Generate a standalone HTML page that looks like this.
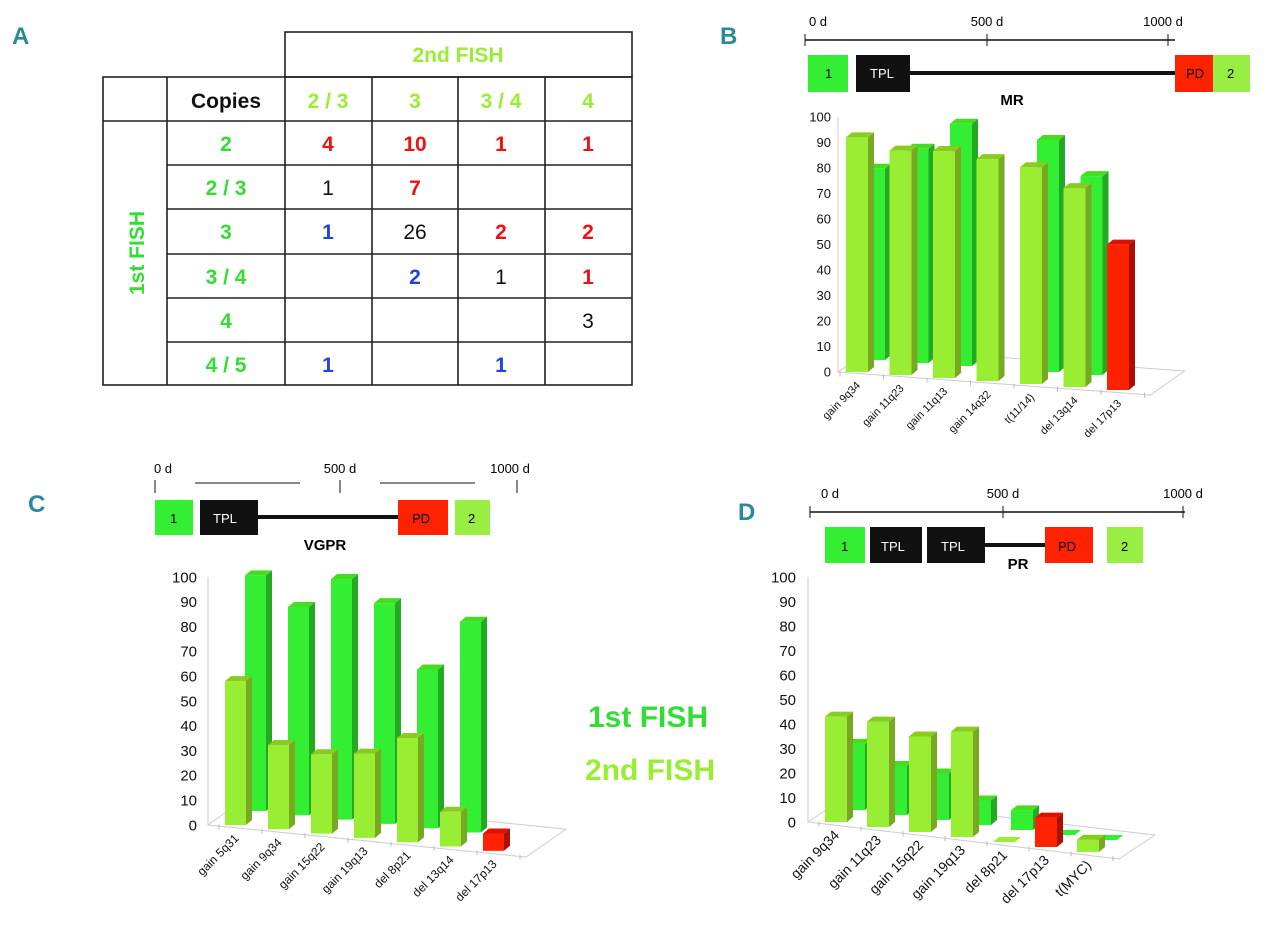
<!DOCTYPE html>
<html><head><meta charset="utf-8">
<style>
body{margin:0;background:#fff;width:1280px;height:943px;overflow:hidden;font-family:"Liberation Sans",sans-serif}
svg{position:absolute;left:0;top:0}
</style></head>
<body>
<svg id="fig" width="1280" height="943" viewBox="0 0 1280 943" xmlns="http://www.w3.org/2000/svg" font-family="Liberation Sans, sans-serif">
<g fill="#2a8a9a" font-weight="bold" font-size="24">
<text x="12" y="44">A</text>
<text x="720" y="44">B</text>
<text x="28" y="512">C</text>
<text x="738" y="520">D</text>
</g>

<g id="table" stroke="#222" stroke-width="1.6" fill="none">
<rect x="285" y="32" width="347" height="45"/>
<rect x="103" y="77" width="529" height="308"/>
<line x1="103" y1="121" x2="632" y2="121"/>
<line x1="167" y1="77" x2="167" y2="385"/>
<line x1="285" y1="77" x2="285" y2="385"/>
<line x1="372" y1="77" x2="372" y2="385"/>
<line x1="458" y1="77" x2="458" y2="385"/>
<line x1="545" y1="77" x2="545" y2="385"/>
<line x1="167" y1="165" x2="632" y2="165"/>
<line x1="167" y1="209" x2="632" y2="209"/>
<line x1="167" y1="254" x2="632" y2="254"/>
<line x1="167" y1="298" x2="632" y2="298"/>
<line x1="167" y1="342" x2="632" y2="342"/>
</g>
<g font-size="21" font-weight="bold" text-anchor="middle">
<text x="458" y="62" fill="#99ee33">2nd FISH</text>
<text x="226" y="108" fill="#111">Copies</text>
<text x="328" y="108" fill="#99ee33">2 / 3</text>
<text x="415" y="108" fill="#99ee33">3</text>
<text x="501" y="108" fill="#99ee33">3 / 4</text>
<text x="588" y="108" fill="#99ee33">4</text>
<text transform="translate(144,253) rotate(-90)" fill="#33dd33">1st FISH</text>
<g fill="#33dd33">
<text x="226" y="151">2</text><text x="226" y="195">2 / 3</text><text x="226" y="239">3</text>
<text x="226" y="284">3 / 4</text><text x="226" y="328">4</text><text x="226" y="372">4 / 5</text>
</g>
<text x="328" y="151" fill="#ee1111">4</text><text x="415" y="151" fill="#ee1111">10</text><text x="501" y="151" fill="#ee1111">1</text><text x="588" y="151" fill="#ee1111">1</text>
<text x="328" y="195" fill="#111" font-weight="normal">1</text><text x="415" y="195" fill="#ee1111">7</text>
<text x="328" y="239" fill="#2244dd">1</text><text x="415" y="239" fill="#111" font-weight="normal">26</text><text x="501" y="239" fill="#ee1111">2</text><text x="588" y="239" fill="#ee1111">2</text>
<text x="415" y="284" fill="#2244dd">2</text><text x="501" y="284" fill="#111" font-weight="normal">1</text><text x="588" y="284" fill="#ee1111">1</text>
<text x="588" y="328" fill="#111" font-weight="normal">3</text>
<text x="328" y="372" fill="#2244dd">1</text><text x="501" y="372" fill="#2244dd">1</text>
</g>

<g font-size="13">
<line x1="805" y1="40" x2="1175" y2="40" stroke="#111" stroke-width="1.5"/>
<line x1="805" y1="34" x2="805" y2="46" stroke="#111"/><line x1="987" y1="34" x2="987" y2="46" stroke="#111"/><line x1="1168" y1="34" x2="1168" y2="46" stroke="#111"/>
<text x="818" y="26" text-anchor="middle">0 d</text><text x="987" y="26" text-anchor="middle">500 d</text><text x="1163" y="26" text-anchor="middle">1000 d</text>
<line x1="910" y1="73" x2="1175" y2="73" stroke="#111" stroke-width="4"/>
<rect x="808" y="55" width="40" height="37" fill="#33ee33"/><text x="825" y="78">1</text>
<rect x="856" y="55" width="54" height="37" fill="#111"/><text x="870" y="78" fill="#fff">TPL</text>
<rect x="1175" y="55" width="38" height="37" fill="#ff2200"/><text x="1186" y="78">PD</text>
<rect x="1213" y="55" width="37" height="37" fill="#99ee44"/><text x="1227" y="78">2</text>
<text x="1012" y="105" font-weight="bold" font-size="15" text-anchor="middle">MR</text>
</g>
<g font-size="13">
<line x1="195" y1="483" x2="300" y2="483" stroke="#111"/><line x1="380" y1="483" x2="475" y2="483" stroke="#111"/>
<line x1="155" y1="480" x2="155" y2="493" stroke="#111"/><line x1="340" y1="480" x2="340" y2="493" stroke="#111"/><line x1="517" y1="480" x2="517" y2="493" stroke="#111"/>
<text x="163" y="473" text-anchor="middle">0 d</text><text x="340" y="473" text-anchor="middle">500 d</text><text x="510" y="473" text-anchor="middle">1000 d</text>
<line x1="258" y1="517" x2="398" y2="517" stroke="#111" stroke-width="4"/>
<rect x="155" y="500" width="38" height="35" fill="#33ee33"/><text x="170" y="523">1</text>
<rect x="200" y="500" width="58" height="35" fill="#111"/><text x="213" y="523" fill="#fff">TPL</text>
<rect x="398" y="500" width="50" height="35" fill="#ff2200"/><text x="412" y="523">PD</text>
<rect x="455" y="500" width="35" height="35" fill="#99ee44"/><text x="468" y="523">2</text>
<text x="325" y="550" font-weight="bold" font-size="15" text-anchor="middle">VGPR</text>
</g>
<g font-size="13">
<line x1="810" y1="512" x2="1185" y2="512" stroke="#111" stroke-width="1.5"/>
<line x1="810" y1="506" x2="810" y2="518" stroke="#111"/><line x1="1003" y1="506" x2="1003" y2="518" stroke="#111"/><line x1="1183" y1="506" x2="1183" y2="518" stroke="#111"/>
<text x="830" y="498" text-anchor="middle">0 d</text><text x="1003" y="498" text-anchor="middle">500 d</text><text x="1183" y="498" text-anchor="middle">1000 d</text>
<line x1="985" y1="545" x2="1045" y2="545" stroke="#111" stroke-width="4"/>
<rect x="825" y="527" width="40" height="36" fill="#33ee33"/><text x="841" y="551">1</text>
<rect x="870" y="527" width="52" height="36" fill="#111"/><text x="881" y="551" fill="#fff">TPL</text>
<rect x="927" y="527" width="58" height="36" fill="#111"/><text x="941" y="551" fill="#fff">TPL</text>
<rect x="1045" y="527" width="48" height="36" fill="#ff2200"/><text x="1058" y="551">PD</text>
<rect x="1107" y="527" width="36" height="36" fill="#99ee44"/><text x="1121" y="551">2</text>
<text x="1018" y="569" font-weight="bold" font-size="15" text-anchor="middle">PR</text>
</g>

<g font-size="30" font-weight="bold">
<text x="588" y="727" fill="#33dd33">1st FISH</text>
<text x="585" y="780" fill="#99ee33">2nd FISH</text>
</g>
<g id="charts"></g>
</svg>
<script>
// Panel B (MR)
const catsB = ["gain 9q34","gain 11q23","gain 11q13","gain 14q32","t(11/14)","del 13q14","del 17p13"];
const secondB = [92,88,89,87,85,78,57];
const firstB = [75,84,95,0,91,78,0];
const redB = [6];
// Panel C (VGPR)
const catsC = ["gain 5q31","gain 9q34","gain 15q22","gain 19q13","del 8p21","del 13q14","del 17p13"];
const secondC = [58,34,32,34,42,14,7];
const firstC = [95,84,97,89,64,85,0];
const redC = [6];
// Panel D (PR)
const catsD = ["gain 9q34","gain 11q23","gain 15q22","gain 19q13","del 8p21","del 17p13","t(MYC)"];
const secondD = [43,43,39,43,0,12,5];
const firstD = [27,20,19,10,8,0,0];
const redD = [5];
const ticks = [0,10,20,30,40,50,60,70,80,90,100];

const NS="http://www.w3.org/2000/svg";
const root=document.getElementById('charts');
function mk(tag,attrs,parent){const e=document.createElementNS(NS,tag);for(const k in attrs)e.setAttribute(k,attrs[k]);parent.appendChild(e);return e;}

function drawChart(id,cfg,cats,front,back,reds){
  const g=mk('g',{},root);
  
  
  const yOf=v=>v*cfg.s;
  const n=cats.length;
  const xOf=i=>cfg.x0+i*cfg.sp;
  const baseOf=i=>cfg.y0+i*cfg.slope;
  const fx0=cfg.ax, fy0=cfg.y0, fx1=cfg.x0+n*cfg.sp, fy1=cfg.y0+(fx1-cfg.x0)/cfg.sp*cfg.slope+2;
  const bdx=cfg.bdx*2, bdy=cfg.bdy*2;
  const floor=mk('polygon',{points:`${fx0},${fy0} ${fx1},${fy1} ${fx1+bdx},${fy1-bdy} ${fx0+bdx},${fy0-bdy}`,fill:'none',stroke:'#ccc','stroke-width':1},g);
  
  
  mk('line',{x1:cfg.ax,y1:cfg.y0,x2:cfg.ax,y2:cfg.y0-yOf(100),stroke:'#ccc'},g);
  for(let i=0;i<=n;i++){const x=cfg.x0+i*cfg.sp-6;mk('line',{x1:x,y1:cfg.y0+(x-cfg.x0)/cfg.sp*cfg.slope,x2:x,y2:cfg.y0+(x-cfg.x0)/cfg.sp*cfg.slope+5,stroke:'#bbb'},g);}
  ticks.forEach(t=>{
    const tx=mk('text',{x:cfg.lx,y:cfg.y0-yOf(t)+cfg.fs*0.35,'text-anchor':'end','font-size':cfg.fs,fill:'#111'},g);
    tx.textContent=t;
    
    
  });
  function bar(x,base,v,c1,c2,c3,name){
    const h=yOf(v),w=cfg.w,d=6,dy=5;
    const bg=mk('g',{},g);
    
    
    if(v<=0.5){mk('polygon',{points:`${x},${base} ${x+w},${base} ${x+w+d},${base-dy} ${x+d},${base-dy}`,fill:c1},bg);return;}
    mk('rect',{x:x,y:base-h,width:w,height:h,fill:c1},bg);
    mk('polygon',{points:`${x+w},${base-h} ${x+w+d},${base-h-dy} ${x+w+d},${base-dy} ${x+w},${base}`,fill:c2},bg);
    mk('polygon',{points:`${x},${base-h} ${x+d},${base-h-dy} ${x+w+d},${base-h-dy} ${x+w},${base-h}`,fill:c3},bg);
  }
  for(let i=0;i<n;i++){
    if(back[i]>0 || cfg.flat)
      bar(xOf(i)+cfg.bdx,baseOf(i)-cfg.bdy,back[i],'#33ee33','#22aa22','#44dd22','bar-first-'+i);
  }
  for(let i=0;i<n;i++){
    const red=reds.includes(i);
    if(front[i]>0 || cfg.flat)
      bar(xOf(i),baseOf(i),front[i],red?'#ff2200':'#99ee33',red?'#aa1100':'#77aa22',red?'#dd1100':'#88cc22','bar-second-'+i);
    const lx=xOf(i)+cfg.w/2+4, ly=baseOf(i)+14;
    const t=mk('text',{x:lx,y:ly,'text-anchor':'end','font-size':cfg.cfs,fill:'#111',transform:`rotate(-45 ${lx} ${ly})`},g);
    t.textContent=cats[i];
    
    
  }
}
drawChart('chart-b-mr',{ax:838,lx:831,y0:372,s:2.55,x0:846,sp:43.5,slope:3,w:22,bdx:17,bdy:12,fs:13,cfs:11,flat:false},catsB,secondB,firstB,redB);
drawChart('chart-c-vgpr',{ax:208,lx:197,y0:825,s:2.48,x0:225,sp:43,slope:4.3,w:21,bdx:20,bdy:14,fs:15,cfs:12,flat:false},catsC,secondC,firstC,redC);
drawChart('chart-d-pr',{ax:808,lx:796,y0:822,s:2.45,x0:825,sp:42,slope:5,w:22,bdx:18,bdy:12,fs:15,cfs:14,flat:true},catsD,secondD,firstD,redD);
</script>
</body></html>
